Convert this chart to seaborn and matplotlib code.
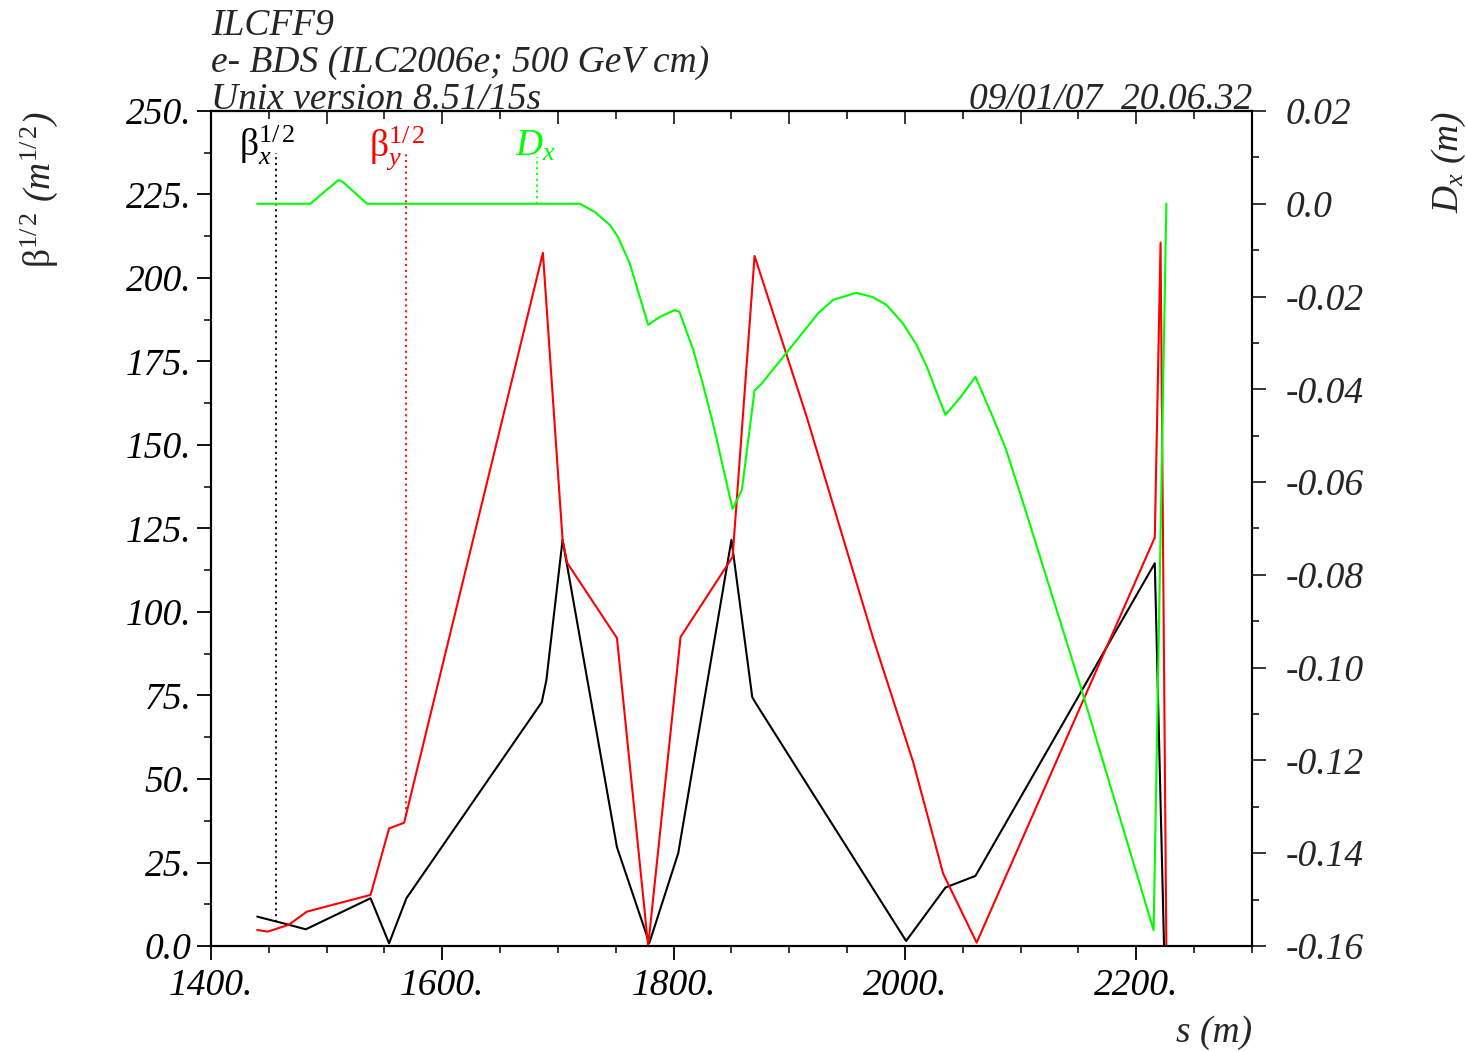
"""
MAD optics plot for ILCFF9: sqrt(beta) in x and y plus horizontal dispersion
along the e- BDS final focus, drawn again with seaborn.
"""

import numpy as np
import seaborn as sns
import matplotlib.pyplot as plt
from matplotlib.ticker import MultipleLocator, FixedLocator, FixedFormatter


# Data
# beta_x^1/2 (m^1/2)
s_betx = [1440, 1468, 1482, 1538, 1554, 1569, 1686, 1690, 1704, 1751, 1779,
          1804, 1850, 1868, 1871, 2001, 2035, 2061, 2216, 2224]
sqrt_betx = [8.8, 6.3, 5.0, 14.3, 0.8, 14.3, 73.0, 79.6, 121.6, 29.6, 0.9,
             27.8, 121.6, 74.5, 72.7, 1.5, 17.5, 21.0, 114.6, 0.0]

# beta_y^1/2 (m^1/2)
s_bety = [1440, 1449, 1467, 1483, 1538, 1554, 1567, 1687, 1704, 1708, 1751,
          1778, 1806, 1851, 1870, 1915, 1973, 2007, 2033, 2062, 2216, 2221, 2226]
sqrt_bety = [4.8, 4.3, 6.3, 10.3, 15.3, 35.2, 36.9, 207.5, 121.6, 114.7, 92.2,
             0.0, 92.5, 116.5, 206.6, 158.5, 91.6, 55.2, 21.7, 1.0, 122.3, 210.6, 0.0]

# D_x (m)
s_dx = [1440, 1486, 1500, 1506, 1509, 1511, 1514, 1518, 1535, 1719, 1732, 1745,
        1752, 1762, 1778, 1788, 1801, 1805, 1817, 1825, 1834, 1851, 1859, 1870,
        1875, 1898, 1925, 1938, 1958, 1972, 1984, 1998, 2010, 2019, 2035, 2048,
        2061, 2076, 2087, 2102, 2152, 2215, 2226]
dx = [0.0, 0.0, 0.0030, 0.0042, 0.0049, 0.0051, 0.0047, 0.0038, 0.0, 0.0,
      -0.0018, -0.0046, -0.0072, -0.0128, -0.0261, -0.0244, -0.0229, -0.0233,
      -0.0315, -0.0386, -0.0473, -0.0658, -0.0617, -0.0402, -0.0391, -0.032,
      -0.0236, -0.0207, -0.0192, -0.0201, -0.0218, -0.0257, -0.0304, -0.0352,
      -0.0455, -0.0417, -0.0373, -0.046, -0.0527, -0.0643, -0.1042, -0.1566, 0.0]

# axis ticks and labels
x_ticks = [1400, 1600, 1800, 2000, 2200]
x_ticklabels = ["1400.", "1600.", "1800.", "2000.", "2200."]
beta_ticks = [0, 25, 50, 75, 100, 125, 150, 175, 200, 225, 250]
beta_ticklabels = ["0.0", "25.", "50.", "75.", "100.", "125.", "150.",
                   "175.", "200.", "225.", "250."]
dx_ticks = [-0.16, -0.14, -0.12, -0.10, -0.08, -0.06, -0.04, -0.02, 0.0, 0.02]
dx_ticklabels = ["-0.16", "-0.14", "-0.12", "-0.10", "-0.08", "-0.06",
                 "-0.04", "-0.02", "0.0", "0.02"]

# where the curve names sit (s of the text, s of the dotted marker)
label_s = {"bx": (1424, 1456.5), "by": (1537, 1568.6), "dx": (1663, 1682)}

BLACK = "black"
RED = "#ff0000"
GREEN = "#00ff00"

sns.set_style("ticks")
plt.rcParams.update({
    "font.family": ["Liberation Serif", "DejaVu Serif"],
    "font.style": "italic",
    "font.size": 27,
    "mathtext.fontset": "custom",
    "mathtext.rm": "Liberation Serif:roman",
    "mathtext.it": "Liberation Serif:italic",
    "axes.linewidth": 1.5,
})

fig = plt.figure(figsize=(14.67, 10.51), dpi=100)
ax = fig.add_axes([0.1438, 0.0999, 0.7096, 0.7945])
ax2 = ax.twinx()

lw = 1.5
sns.lineplot(x=s_betx, y=sqrt_betx, ax=ax, color=BLACK, linewidth=lw,
             sort=False, estimator=None)
sns.lineplot(x=s_bety, y=sqrt_bety, ax=ax, color=RED, linewidth=lw,
             sort=False, estimator=None)
sns.lineplot(x=s_dx, y=dx, ax=ax2, color=GREEN, linewidth=lw,
             sort=False, estimator=None)

ax.set_xlim(1400, 2300)
ax.set_ylim(0, 250)
ax2.set_ylim(-0.16, 0.02)

# curve names with dotted markers down to their curve
lab_y = 236.5
top_y = 237.4
s_txt, s_mark = label_s["bx"]
ax.text(s_txt, lab_y, r"$\mathrm{β}_{\mathit{x}}^{\mathit{1/\,2}}$", color=BLACK,
        fontsize=27, va="baseline", ha="left")
ax.vlines(s_mark, np.interp(s_mark, s_betx, sqrt_betx), top_y, colors=BLACK,
          linestyles=(0, (1.2, 2.0)), linewidth=1.3)
s_txt, s_mark = label_s["by"]
ax.text(s_txt, lab_y, r"$\mathrm{β}_{\mathit{y}}^{\mathit{1/\,2}}$", color=RED,
        fontsize=27, va="baseline", ha="left")
ax.vlines(s_mark, np.interp(s_mark, s_bety, sqrt_bety), top_y, colors=RED,
          linestyles=(0, (1.2, 2.0)), linewidth=1.3)
s_txt, s_mark = label_s["dx"]
ax.text(s_txt, lab_y, r"$\mathit{D}_{\mathit{x}}$", color=GREEN,
        fontsize=27, va="baseline", ha="left")
ax2.vlines(s_mark, np.interp(s_mark, s_dx, dx), 0.0101, colors=GREEN,
           linestyles=(0, (1.2, 2.0)), linewidth=1.3)

# ticks
ax.xaxis.set_major_locator(FixedLocator(x_ticks))
ax.xaxis.set_major_formatter(FixedFormatter(x_ticklabels))
ax.xaxis.set_minor_locator(MultipleLocator(50))
ax.yaxis.set_major_locator(FixedLocator(beta_ticks))
ax.yaxis.set_major_formatter(FixedFormatter(beta_ticklabels))
ax.yaxis.set_minor_locator(MultipleLocator(12.5))
ax2.yaxis.set_major_locator(FixedLocator(dx_ticks))
ax2.yaxis.set_major_formatter(FixedFormatter(dx_ticklabels))
ax2.yaxis.set_minor_locator(MultipleLocator(0.01))

ax.tick_params(axis="both", which="major", direction="out", length=10,
               width=1.3, labelsize=27, pad=6, colors="black")
ax.tick_params(axis="both", which="minor", direction="out", length=5, width=1.3)
ax.tick_params(axis="y", which="major", pad=4)
ax2.tick_params(axis="y", which="major", direction="out", length=10,
                width=1.3, labelsize=27, pad=14)
ax2.tick_params(axis="y", which="minor", direction="out", length=5, width=1.3)

top = ax.secondary_xaxis("top")
top.xaxis.set_major_locator(MultipleLocator(100))
top.xaxis.set_minor_locator(MultipleLocator(50))
top.tick_params(which="major", direction="in", length=9, width=1.3, labeltop=False)
top.tick_params(which="minor", direction="in", length=6, width=1.3)

for a in (ax, ax2):
    for sp in a.spines.values():
        sp.set_visible(True)
        sp.set_color("black")
        sp.set_linewidth(1.5)

# axis labels
ax.set_ylabel(r"$\mathrm{β}^{\mathit{1/\,2}}$ (m$^{\mathit{1/\,2}}$)", loc="top",
              fontsize=27)
ax.yaxis.set_label_coords(-0.145, 1.0)
ax2.set_ylabel(r"$\mathit{D}_{\mathit{x}}$ (m)", loc="top", fontsize=27)
ax2.yaxis.set_label_coords(1.171, 1.0)
ax.set_xlabel("s (m)", loc="right", fontsize=27)
ax.xaxis.set_label_coords(1.0, -0.083)

# header lines
fig.text(0.1438, 1 - 35 / 1051, "ILCFF9", fontsize=27, va="baseline", ha="left")
fig.text(0.1438, 1 - 72 / 1051, "e- BDS (ILC2006e; 500 GeV cm)", fontsize=27,
         va="baseline", ha="left")
fig.text(0.1438, 1 - 109 / 1051, "Unix version 8.51/15s", fontsize=27,
         va="baseline", ha="left")
fig.text(0.8534, 1 - 109 / 1051, "09/01/07  20.06.32", fontsize=27,
         va="baseline", ha="right")

fig.savefig("out.png", dpi=100)
